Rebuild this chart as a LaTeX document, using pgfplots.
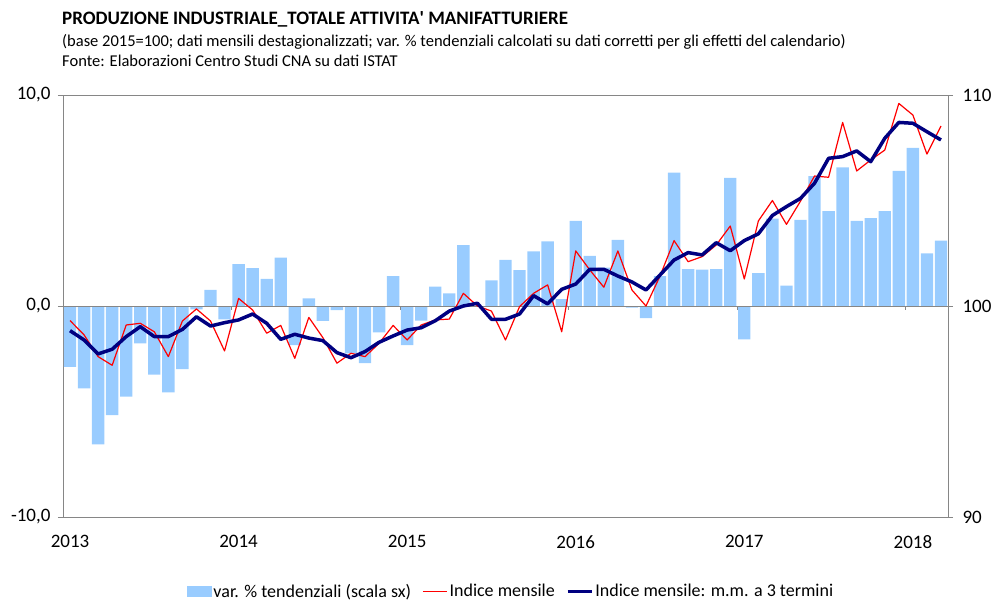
\documentclass[border=0pt]{standalone}
\usepackage{fontspec}
\setmainfont{Carlito}
\usepackage{pgfplots}
\pgfplotsset{compat=1.18}
\usepackage{pgfplotstable}
\definecolor{barblue}{RGB}{153,204,255}
\definecolor{navyline}{RGB}{0,0,128}
\definecolor{framegray}{RGB}{134,134,134}
\definecolor{linered}{RGB}{255,0,0}

\pgfplotstableread{
k bar red blue
0 -2.88 99.31 98.83
1 -3.90 98.63 98.39
2 -6.56 97.60 97.73
3 -5.17 97.19 97.95
4 -4.30 99.10 98.55
5 -1.77 99.18 99.02
6 -3.25 98.78 98.55
7 -4.09 97.60 98.55
8 -2.99 99.29 98.89
9 -0.16 99.86 99.49
10 0.76 99.29 99.05
11 -0.63 97.87 99.21
12 1.98 100.36 99.34
13 1.80 99.81 99.62
14 1.28 98.71 99.18
15 2.29 99.08 98.42
16 -1.85 97.52 98.66
17 0.36 99.46 98.48
18 -0.71 98.50 98.36
19 -0.19 97.29 97.79
20 -2.24 97.76 97.55
21 -2.71 97.60 97.84
22 -1.25 98.23 98.28
23 1.42 99.08 98.58
24 -1.85 98.39 98.86
25 -0.69 99.10 98.97
26 0.92 99.34 99.30
27 0.60 99.38 99.76
28 2.88 100.60 100.00
29 0.00 100.00 100.13
30 1.22 99.76 99.37
31 2.19 98.39 99.37
32 1.70 99.97 99.62
33 2.59 100.60 100.49
34 3.06 101.00 100.10
35 0.33 98.78 100.79
36 4.03 102.61 101.04
37 2.38 101.71 101.74
38 1.82 100.89 101.74
39 3.13 102.61 101.42
40 -0.08 100.76 101.14
41 -0.58 100.00 100.76
42 1.42 101.42 101.47
43 6.32 103.10 102.18
44 1.75 102.10 102.53
45 1.72 102.34 102.42
46 1.75 102.89 103.00
47 6.07 103.79 102.62
48 -1.58 101.28 103.10
49 1.56 104.03 103.42
50 4.14 105.00 104.29
51 0.96 103.87 104.71
52 4.08 104.97 105.10
53 6.16 106.16 105.82
54 4.50 106.10 107.00
55 6.57 108.70 107.08
56 4.03 106.40 107.35
57 4.17 106.92 106.84
58 4.50 107.39 107.95
59 6.40 109.60 108.70
60 7.49 109.05 108.66
61 2.50 107.20 108.26
62 3.10 108.53 107.87
}\datatable

\begin{document}
\begin{tikzpicture}
\useasboundingbox (0pt,0pt) rectangle (994pt,603pt);
\coordinate (O) at (63pt,86pt);
\node[anchor=base west, inner sep=0, font=\bfseries\fontsize{19}{21}\selectfont] at (62pt,578pt) {PRODUZIONE INDUSTRIALE\_TOTALE ATTIVITA\textquotesingle{} MANIFATTURIERE};
\node[anchor=base west, inner sep=0, font=\fontsize{16.5}{18}\selectfont] at (62pt,556pt) {(base 2015=100; dati mensili destagionalizzati; var. \% tendenziali calcolati su dati corretti per gli effetti del calendario)};
\node[anchor=base west, inner sep=0, font=\fontsize{16.5}{18}\selectfont] at (62pt,536pt) {Fonte: Elaborazioni Centro Studi CNA su dati ISTAT};

\begin{axis}[
  at={(O)}, anchor=south west,
  width=885pt, height=422pt, scale only axis,
  xmin=-0.5, xmax=62.5, ymin=-10, ymax=10,
  axis line style={framegray, line width=0.8pt},
  ytick={-10,0,10}, yticklabels={{-10,0},{0,0},{10,0}},
  xtick={0,12,24,36,48,60}, xticklabels={2013,2014,2015,2016,2017,2018},
  x tick style={draw=none},
  y tick style={framegray, line width=0.8pt},
  tick align=outside, major tick length=5pt,
  ytick pos=left, xtick pos=bottom,
  tick label style={font=\fontsize{19}{21}\selectfont},
  xticklabel style={yshift=-10pt},
  yticklabel style={xshift=-4pt},
]
\addplot[ybar, bar width=0.88, fill=barblue, draw=none] table[x=k, y=bar] {\datatable};
\draw[framegray, line width=0.8pt] (axis cs:-0.5,0) -- (axis cs:62.5,0);
\pgfplotsinvokeforeach{11.5,23.5,35.5,47.5,59.5}{
  \draw[framegray, line width=0.8pt] (axis cs:#1,0) -- ++(0pt,-4pt);
}
\end{axis}

\begin{axis}[
  at={(O)}, anchor=south west,
  width=885pt, height=422pt, scale only axis,
  xmin=-0.5, xmax=62.5, ymin=90, ymax=110,
  axis x line=none, axis y line*=right,
  axis line style={framegray, line width=0.8pt},
  ytick={90,100,110}, yticklabels={90,100,110},
  y tick style={framegray, line width=0.8pt},
  tick align=outside, major tick length=5pt,
  tick label style={font=\fontsize{19}{21}\selectfont},
  yticklabel style={xshift=6pt},
  legend style={at={(axis description cs:0.14,-0.176)}, anchor=west, draw=none, fill=none,
    font=\fontsize{18}{20}\selectfont, inner sep=0pt,
    /tikz/every even column/.append style={column sep=9pt}},
  legend columns=3,
]
\addlegendimage{legend image code/.code={\fill[barblue] (0pt,-5pt) rectangle (24pt,5pt);}}
\addlegendentry{var. \% tendenziali (scala sx)}
\addlegendimage{legend image code/.code={\draw[draw=linered, line width=1.4pt] (0pt,0pt) -- (24pt,0pt);}}
\addlegendentry{Indice mensile}
\addlegendimage{legend image code/.code={\draw[draw=navyline, line width=3.5pt] (0pt,0pt) -- (24pt,0pt);}}
\addlegendentry{Indice mensile: m.m. a 3 termini}
\addplot[draw=linered, line width=1.2pt, line join=round, forget plot] table[x=k, y=red] {\datatable};
\addplot[draw=navyline, line width=3.5pt, line join=round, forget plot] table[x=k, y=blue] {\datatable};
\end{axis}
\end{tikzpicture}
\end{document}
